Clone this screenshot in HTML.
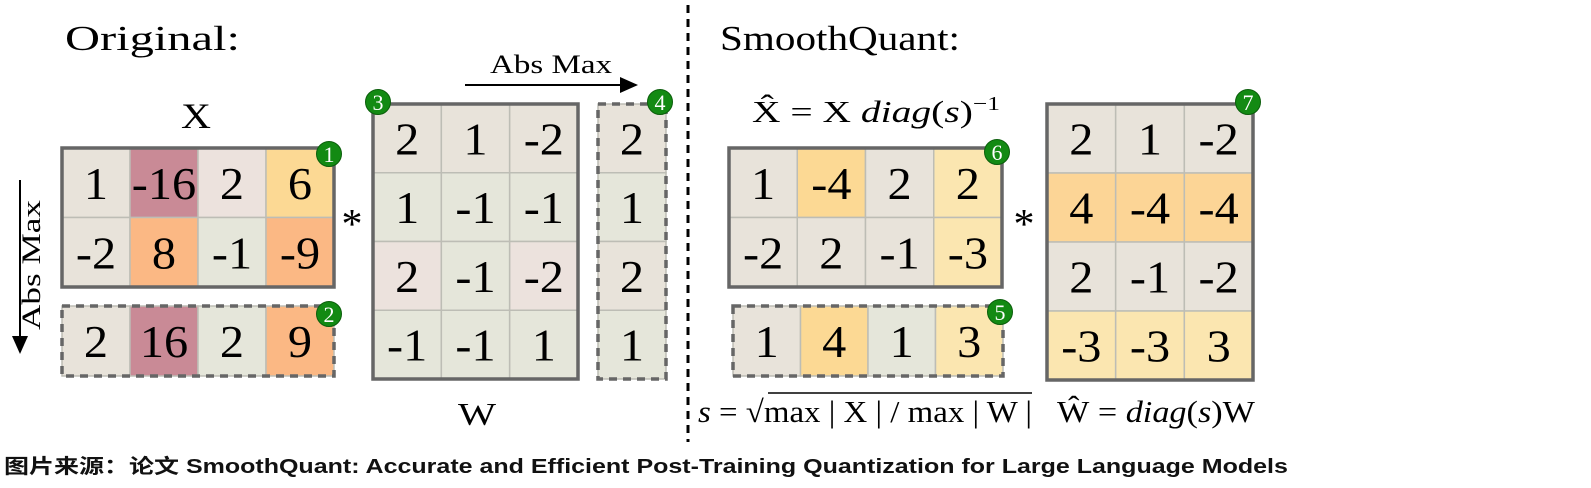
<!DOCTYPE html>
<html><head><meta charset="utf-8"><style>
html,body{margin:0;padding:0;background:#fff;width:1591px;height:488px;overflow:hidden}
svg text{font-family:"Liberation Serif",serif}
.cap{position:absolute;left:4px;top:450px;font:bold 20px "Liberation Sans","Noto Sans CJK SC",sans-serif;color:#111;white-space:nowrap;transform:scaleX(1.25);transform-origin:0 0}
</style></head><body>
<svg id="fig" width="1591" height="488" viewBox="0 0 1591 488" style="position:absolute;left:0;top:0">
<defs><marker id="ah" markerWidth="10" markerHeight="10" refX="8" refY="5" orient="auto"><path d="M0,1 L9,5 L0,9 Z" fill="#000"/></marker></defs>
<text x="65" y="50" font-size="35" textLength="175" lengthAdjust="spacingAndGlyphs">Original:</text>
<text x="720" y="50" font-size="35" textLength="240" lengthAdjust="spacingAndGlyphs">SmoothQuant:</text>
<line x1="688" y1="5" x2="688" y2="442" stroke="#000" stroke-width="3" stroke-dasharray="8,6"/>
<text x="181" y="128" font-size="36" textLength="30" lengthAdjust="spacingAndGlyphs">X</text>
<text x="458" y="425" font-size="32" textLength="38" lengthAdjust="spacingAndGlyphs">W</text>
<line x1="20" y1="180" x2="20" y2="352" stroke="#000" stroke-width="2" marker-end="url(#ah)"/>
<text transform="translate(40,330) rotate(-90)" font-size="26" textLength="130" lengthAdjust="spacingAndGlyphs">Abs Max</text>
<line x1="465" y1="85" x2="636" y2="85" stroke="#000" stroke-width="2" marker-end="url(#ah)"/>
<text x="490" y="73" font-size="26" textLength="122" lengthAdjust="spacingAndGlyphs">Abs Max</text>
<text x="352" y="238" font-size="42" text-anchor="middle">*</text>
<text x="1024" y="238" font-size="42" text-anchor="middle">*</text>
<text x="752" y="122" font-size="31" textLength="248" lengthAdjust="spacingAndGlyphs">X&#770; = X <tspan font-style="italic">diag</tspan>(<tspan font-style="italic">s</tspan>)<tspan dy="-12" font-size="20">−1</tspan></text>
<text x="698" y="422" font-size="31" textLength="334" lengthAdjust="spacingAndGlyphs"><tspan font-style="italic">s</tspan> = √max | X | / max | W |</text>
<line x1="768" y1="393" x2="1032" y2="393" stroke="#000" stroke-width="1.5"/>
<text x="1057" y="422" font-size="31" textLength="198" lengthAdjust="spacingAndGlyphs">W&#770; = <tspan font-style="italic">diag</tspan>(<tspan font-style="italic">s</tspan>)W</text>
</svg>
<div class="cap">图片来源：论文 SmoothQuant: Accurate and Efficient Post-Training Quantization for Large Language Models</div>
<script>
const B='#e8e3da',G='#e5e6da',P='#ece2dd',M='#c98a96',O='#fbb884',Y='#fcd994',L='#fbe6b0',Q='#fcd596';
const xVals=[[1,-16,2,6],[-2,8,-1,-9]];
const xCols=[[B,M,P,Y],[B,O,G,O]];
const xMaxVals=[[2,16,2,9]];
const xMaxCols=[[B,M,G,O]];
const wVals=[[2,1,-2],[1,-1,-1],[2,-1,-2],[-1,-1,1]];
const wCols=[[B,B,B],[G,G,G],[P,G,P],[G,G,G]];
const wMaxVals=[[2],[1],[2],[1]];
const wMaxCols=[[B],[G],[B],[G]];
const xhVals=[[1,-4,2,2],[-2,2,-1,-3]];
const xhCols=[[B,Y,B,L],[B,B,B,L]];
const sVals=[[1,4,1,3]];
const sCols=[[B,Y,G,L]];
const whVals=[[2,1,-2],[4,-4,-4],[2,-1,-2],[-3,-3,3]];
const whCols=[[B,B,B],[Q,Q,Q],[B,B,B],[L,L,L]];
const svg=document.getElementById('fig');
const NS='http://www.w3.org/2000/svg';
function mk(t,a){const e=document.createElementNS(NS,t);for(const k in a)e.setAttribute(k,a[k]);svg.appendChild(e);return e;}
function matrix(name,vals,cols,x0,y0,w,h,dashed){
  const r=vals.length,c=vals[0].length,cw=w/c,ch=h/r;
  for(let i=0;i<r;i++)for(let j=0;j<c;j++){
    const rc=mk('rect',{x:x0+j*cw,y:y0+i*ch,width:cw,height:ch,fill:cols[i][j],stroke:'#bdbdb5','stroke-width':1.5});
    
    
    const cx=x0+j*cw+cw/2,cy=y0+i*ch+ch/2+16;
    const t=mk('text',{transform:'translate('+cx+','+cy+') scale(1.05,1)','font-size':46,'text-anchor':'middle'});
    t.textContent=vals[i][j];
    
    
  }
  const b=mk('rect',{x:x0,y:y0,width:w,height:h,fill:'none',stroke:'#666','stroke-width':3.5});
  if(dashed)b.setAttribute('stroke-dasharray','8,6');
  
  
}
function badge(n,cx,cy){
  const c=mk('circle',{cx:cx,cy:cy,r:12.5,fill:'#138a13',stroke:'#0b5e0b','stroke-width':1});
  
  
  const t=mk('text',{x:cx,y:cy+8,'font-size':22,'text-anchor':'middle',fill:'#fff','font-family':'Liberation Sans'});
  t.textContent=n;
  
  
}
matrix('x-matrix',xVals,xCols,62,148,272,139,false);
matrix('x-absmax-row',xMaxVals,xMaxCols,62,306,272,70,true);
matrix('w-matrix',wVals,wCols,373,104,205,275,false);
matrix('w-absmax-col',wMaxVals,wMaxCols,598,104,68,275,true);
matrix('x-hat-matrix',xhVals,xhCols,729,148,273,139,false);
matrix('s-row',sVals,sCols,733,306,270,70,true);
matrix('w-hat-matrix',whVals,whCols,1047,104,206,276,false);
badge(1,329,154);badge(2,329,314);badge(3,378,102);badge(4,660,102);
badge(6,997,152);badge(5,1000,312);badge(7,1248,102);
</script>
</body></html>
